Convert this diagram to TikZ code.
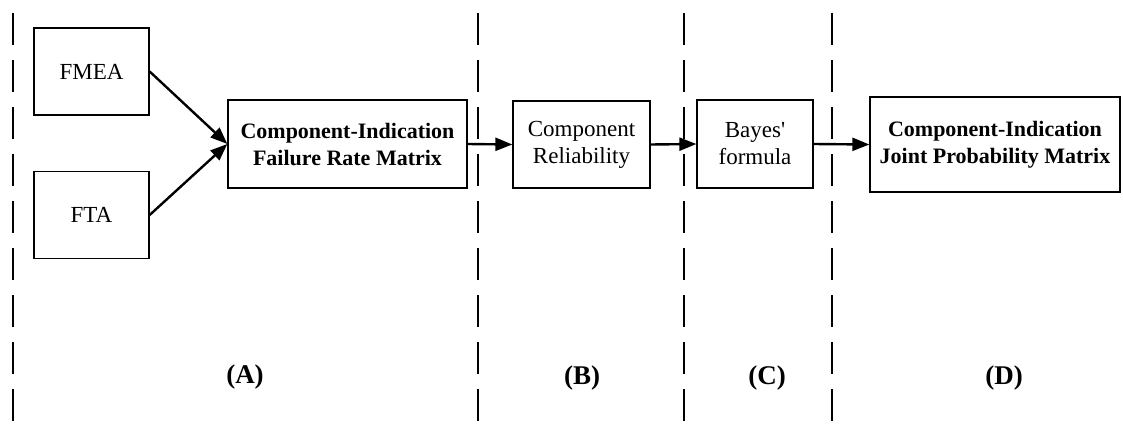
\documentclass[tikz,border=0pt]{standalone}
\usepackage{fontspec}
\setmainfont{Liberation Serif}
\usetikzlibrary{arrows.meta}
\begin{document}
\begin{tikzpicture}[x=1pt,y=-1pt,
  box/.style={draw,line width=1.3pt,minimum height=87pt,align=center,inner sep=0pt},
  reg/.style={font=\fontsize{23}{27}\selectfont},
  bld/.style={font=\fontsize{22}{27}\selectfont\bfseries},
  arr/.style={line width=2.4pt,-{Triangle[length=17pt,width=13pt]}},
  sep/.style={line width=2pt,dash pattern=on 32pt off 15pt},
  lab/.style={font=\fontsize{27}{30}\selectfont\bfseries}]
\useasboundingbox (0,0) rectangle (1123,428);
% dashed separators
\coordinate (s1t) at (12.5,13); \coordinate (s1b) at (12.5,428);
\coordinate (s2t) at (478,13); \coordinate (s2b) at (478,428);
\coordinate (s3t) at (684,13); \coordinate (s3b) at (684,428);
\coordinate (s4t) at (831.5,13); \coordinate (s4b) at (831.5,428);
\draw[sep] (s1t) -- (s1b);
\draw[sep] (s2t) -- (s2b);
\draw[sep] (s3t) -- (s3b);
\draw[sep] (s4t) -- (s4b);
% boxes
\node[box,reg,minimum width=115pt] (fmea) at (91.5,71.5) {FMEA};
\node[box,reg,minimum width=115pt] (fta) at (91.5,215) {FTA};
\node[box,bld,minimum width=239pt,minimum height=88pt] (cifrm) at (347.5,144) {Component-Indication\\Failure Rate Matrix};
\node[box,reg,minimum width=137pt] (cr) at (581.5,144.5) {Component\\Reliability};
\node[box,reg,minimum width=116pt,minimum height=88pt] (bayes) at (755,144) {Bayes\textquotesingle\\formula};
\node[box,bld,minimum width=250pt,minimum height=95pt] (cijpm) at (995,144.5) {Component-Indication\\Joint Probability Matrix};
% arrows
\draw[arr] (fmea.east) -- (cifrm.west);
\draw[arr] (fta.east) -- (cifrm.west);
\draw[arr] (cifrm.east) -- (cr.west);
\draw[arr] (cr.east) -- (bayes.west);
\draw[arr] (bayes.east) -- (cijpm.west);
% labels
\node[lab] (la) at (245,377) {(A)};
\node[lab] (lb) at (582,378) {(B)};
\node[lab] (lc) at (767,378) {(C)};
\node[lab] (ld) at (1004,378) {(D)};
\end{tikzpicture}
\end{document}
